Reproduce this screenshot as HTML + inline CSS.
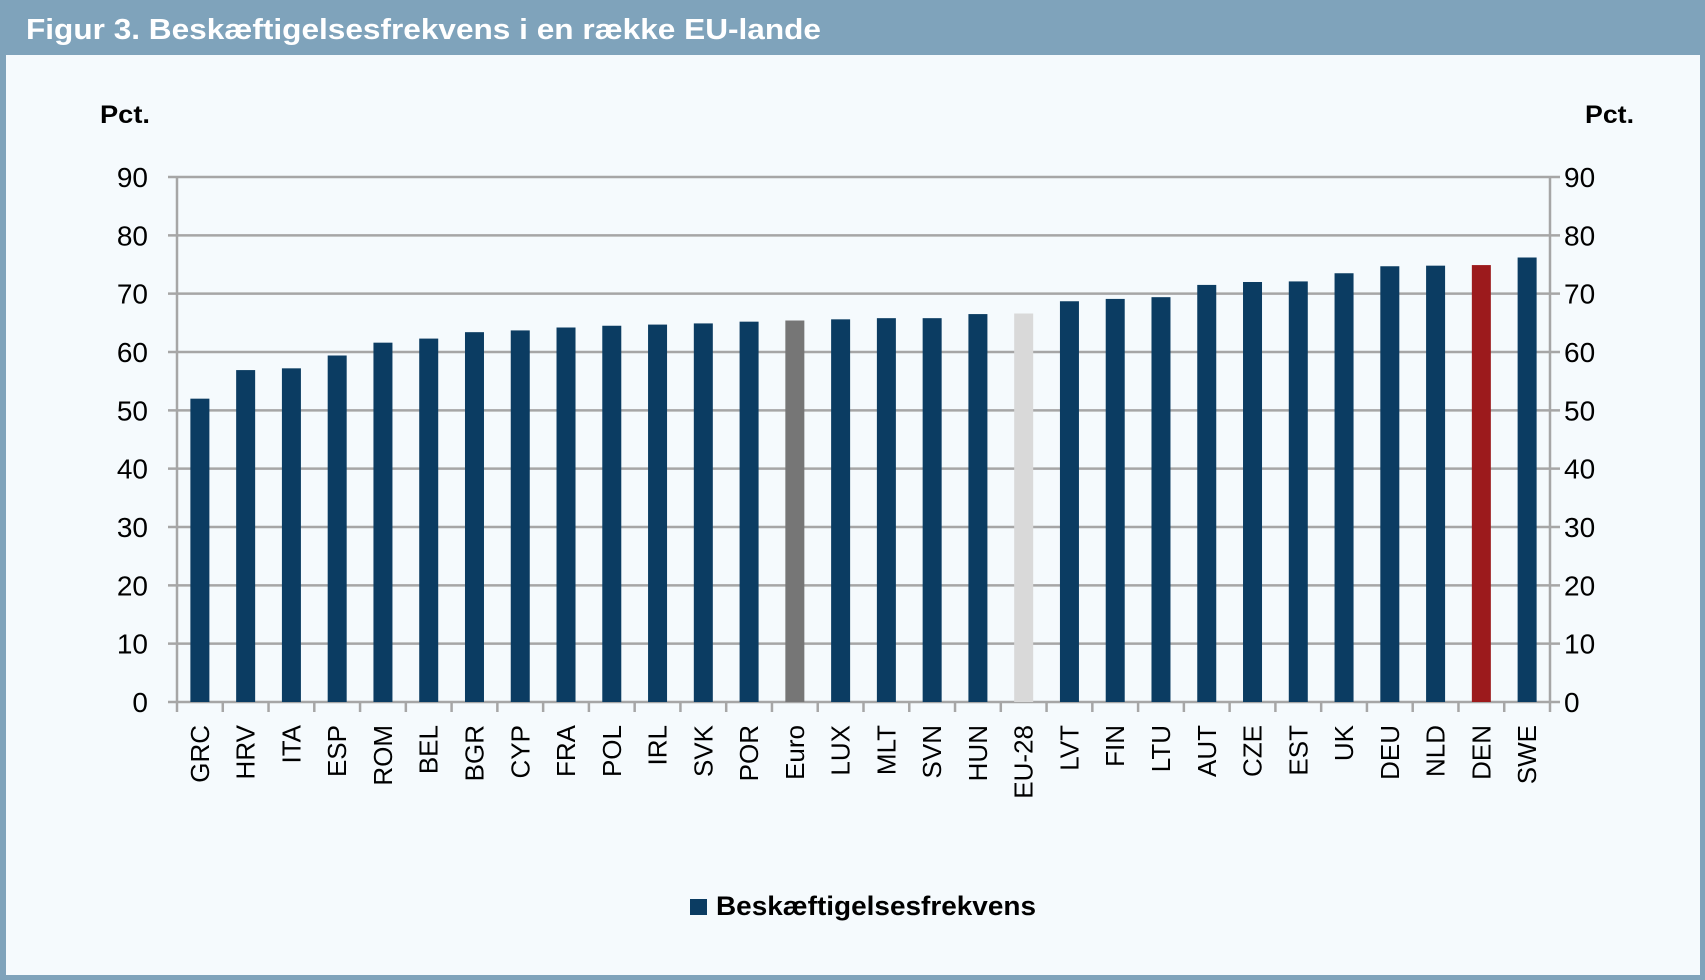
<!DOCTYPE html>
<html><head><meta charset="utf-8"><style>
html,body{margin:0;padding:0;background:#7fa3bb;}
svg{display:block;font-family:"Liberation Sans",sans-serif;}
</style></head><body>
<svg id="chart" width="1705" height="980" viewBox="0 0 1705 980" xmlns="http://www.w3.org/2000/svg">
<rect x="0" y="0" width="1705" height="980" fill="#7fa3bb"/>
<rect x="6" y="55" width="1694" height="920" fill="#f5fafd"/>
<text x="26" y="39" font-size="29" font-weight="bold" fill="#ffffff" textLength="795" lengthAdjust="spacingAndGlyphs">Figur 3. Beskæftigelsesfrekvens i en række EU-lande</text>
<text x="100" y="123" font-size="25" font-weight="bold" fill="#000" textLength="50" lengthAdjust="spacingAndGlyphs">Pct.</text>
<text x="1585" y="123" font-size="25" font-weight="bold" fill="#000" textLength="49" lengthAdjust="spacingAndGlyphs">Pct.</text>
<g id="grid"></g><g id="bars"></g><g id="axes"></g><g id="labels"></g>
<rect x="690" y="899" width="17" height="16" fill="#0b3c62"/>
<text x="716" y="915" font-size="27" font-weight="bold" fill="#000" textLength="320" lengthAdjust="spacingAndGlyphs">Beskæftigelsesfrekvens</text>
</svg>
<script>
const categories=["GRC","HRV","ITA","ESP","ROM","BEL","BGR","CYP","FRA","POL","IRL","SVK","POR","Euro","LUX","MLT","SVN","HUN","EU-28","LVT","FIN","LTU","AUT","CZE","EST","UK","DEU","NLD","DEN","SWE"];
const values=[52,56.9,57.2,59.4,61.6,62.3,63.4,63.7,64.2,64.5,64.7,64.9,65.2,65.4,65.6,65.8,65.8,66.5,66.6,68.7,69.1,69.4,71.5,72.0,72.1,73.5,74.7,74.8,74.9,76.2];
const yTicks=[0,10,20,30,40,50,60,70,80,90];
const ns="http://www.w3.org/2000/svg";
const X0=177,X1=1550,Y0=702,Y1=177,YMAX=90;
const step=(X1-X0)/categories.length;
const y=v=>Y0-(v/YMAX)*(Y0-Y1);
const xc=i=>X0+step*(i+0.5);
function mk(tag,attrs,parent,txt){const e=document.createElementNS(ns,tag);for(const k in attrs)e.setAttribute(k,attrs[k]);if(txt!==undefined)e.textContent=txt;document.getElementById(parent).appendChild(e);return e;}
yTicks.forEach(t=>{
  const g=mk('line',{x1:X0-9,x2:X1+10,y1:y(t),y2:y(t),stroke:'#a6a6a6','stroke-width':2.5},'grid');
  
  
  const l=mk('text',{x:148,y:y(t)+10,'font-size':28,'text-anchor':'end',fill:'#000'},'labels',String(t));
  
  
  const r=mk('text',{x:1564,y:y(t)+10,'font-size':28,fill:'#000'},'labels',String(t));
  
  
});
categories.forEach((c,i)=>{
  let col='#0b3c62';
  if(c==='Euro')col='#767676';
  if(c==='EU-28')col='#d9d9d9';
  if(c==='DEN')col='#9c1a1c';
  const b=mk('rect',{x:xc(i)-9.5,y:y(values[i]),width:19,height:Y0-y(values[i]),fill:col},'bars');
  
  
  const t=mk('text',{transform:`translate(${xc(i)+9},725) rotate(-90)`,'font-size':26,'text-anchor':'end',fill:'#000'},'labels',c);
  
  
});
for(let i=0;i<=categories.length;i++){
  const tk=mk('line',{x1:X0+step*i,x2:X0+step*i,y1:Y0,y2:Y0+10,stroke:'#a6a6a6','stroke-width':2.5},'axes');
  
  
}
const la=mk('line',{x1:X0,x2:X0,y1:Y1,y2:Y0,stroke:'#a6a6a6','stroke-width':2.5},'axes');


const ra=mk('line',{x1:X1,x2:X1,y1:Y1,y2:Y0,stroke:'#a6a6a6','stroke-width':2.5},'axes');


</script>
</body></html>
